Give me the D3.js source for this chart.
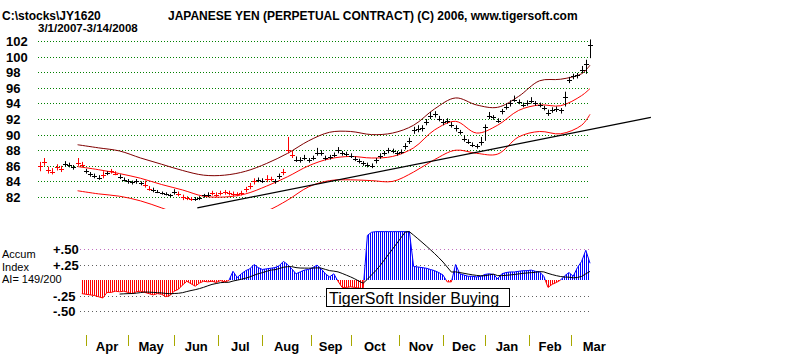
<!DOCTYPE html>
<html>
<head>
<meta charset="utf-8">
<script src="https://cdn.jsdelivr.net/npm/d3@7"></script>
<style>
body { margin: 0; background: #fff; }
svg { display: block; font-family: "Liberation Sans", Arial, sans-serif; }
.lbl { font-weight: bold; font-size: 13px; }
</style>
</head>
<body>
<div class="container"></div>
<script>
// one bar every 2 trading days, 3/1/2007 .. 3/14/2008
var closes = [86.0,86.5,85.4,85.2,85.8,85.6,86.2,86.1,85.8,86.3,
    86.1,85.3,84.9,84.7,84.5,84.8,85.1,85.3,85.0,84.6,
    84.2,84.0,83.9,84.0,83.8,83.5,83.0,82.9,82.7,82.5,
    82.4,82.2,82.7,82.4,82.0,81.9,81.8,81.7,81.9,82.2,
    82.3,82.5,82.3,82.5,82.6,82.5,82.4,82.4,82.5,83.0,
    83.4,84.0,84.2,84.1,84.3,84.3,84.0,84.7,85.2,88.0,
    87.4,86.8,86.7,87.0,86.7,87.0,87.6,87.6,87.0,87.1,
    87.4,88.0,87.6,87.5,87.3,86.9,86.6,86.3,86.1,86.0,
    86.7,87.3,87.6,88.0,87.9,87.6,87.8,88.5,89.2,90.6,
    90.7,90.8,91.6,92.4,92.6,92.0,91.6,91.7,91.2,90.8,
    90.3,89.5,89.1,88.7,88.5,89.0,91.0,92.4,92.2,91.8,
    93.0,93.6,94.0,94.5,94.2,93.8,94.0,94.3,94.0,93.8,
    93.4,92.8,93.1,93.3,93.1,94.8,97.0,97.5,97.6,98.3,
    99.0,101.5];
var highs = [86.5,87.0,85.9,85.7,86.2,86.0,86.6,86.4,86.1,87.0,
    86.5,85.6,85.2,85.0,84.8,85.3,85.3,85.6,85.3,84.9,
    84.5,84.3,84.1,84.3,84.0,84.1,83.4,83.2,82.9,82.7,
    82.6,82.4,83.0,82.7,82.3,82.1,82.0,82.0,82.1,82.4,
    82.6,82.8,82.6,82.8,82.9,82.8,82.7,82.6,82.8,83.3,
    83.8,84.4,84.5,84.4,84.8,84.6,84.3,85.0,85.6,89.7,
    87.9,87.2,87.1,87.4,87.0,87.3,88.3,88.0,87.3,87.4,
    87.7,88.4,87.9,87.8,87.6,87.2,86.9,86.6,86.4,86.3,
    87.0,87.6,87.9,88.3,88.2,87.9,88.1,88.9,89.6,91.0,
    91.2,91.2,92.0,92.9,93.0,92.4,92.0,92.1,91.6,91.2,
    90.6,89.9,89.4,89.0,88.8,89.7,91.3,92.9,92.5,92.1,
    93.3,94.0,94.4,95.0,94.5,94.1,94.4,94.8,94.3,94.1,
    93.7,93.2,93.5,93.6,93.4,95.5,97.4,97.8,97.9,98.8,
    99.6,102.2];
var lows = [85.3,86.0,85.0,84.9,85.4,85.2,85.9,85.8,85.5,86.0,
    85.8,85.0,84.6,84.4,84.2,84.4,84.8,85.0,84.8,84.3,
    84.0,83.7,83.6,83.7,83.5,83.2,82.8,82.6,82.5,82.3,
    82.2,82.0,82.3,82.1,81.6,81.6,81.5,81.5,81.6,81.9,
    82.0,82.2,82.0,82.2,82.3,82.2,82.1,82.1,82.2,82.6,
    83.0,83.6,83.9,83.8,83.9,84.0,83.7,84.3,84.8,87.6,
    87.0,86.5,86.4,86.7,86.4,86.7,87.3,87.3,86.7,86.8,
    87.1,87.6,87.3,87.2,87.0,86.6,86.3,86.0,85.8,85.7,
    86.3,86.9,87.3,87.6,87.6,87.3,87.5,88.1,88.8,90.1,
    90.3,90.4,91.2,92.0,92.2,91.7,91.2,91.4,90.9,90.4,
    90.0,89.1,88.8,88.4,88.2,88.6,89.2,92.0,91.9,91.5,
    92.6,93.2,93.6,94.2,93.9,93.5,93.7,94.0,93.7,93.5,
    93.1,92.4,92.8,92.9,92.7,93.6,96.6,97.1,97.2,97.9,
    97.8,99.8];
var barColours = 'rrrrrrkkkrrkkkkrkrrkkkkkkrrkkkkkkrrrrkkkkrrrrrrrrrrrkkrrkkrrr' +
    'kkkkkkkkkkkkkkkkkkkkkkkkkkkkkkkkkkkkkkkkkkkkkkkkkkkkkkkkkkkkkkkkkkkkkkk';

var bandDays = [18,28,38,48,58,68,78,88,98,108,118,128,138,148,158,168,178,188,198,208,218,228,238,248,258,262];
var upperBand = [88.7,88.3,87.9,87.0,86.2,85.4,84.8,84.8,85.3,86.3,87.6,89.2,90.3,90.4,90.0,90.2,91.2,93.3,94.7,93.8,93.5,94.9,96.9,97.1,97.8,98.9];
var midBand = [85.9,85.5,85.0,84.4,83.6,82.9,82.1,82.0,82.4,83.4,84.6,86.0,86.9,87.2,87.0,87.2,88.3,90.6,91.7,90.2,91.2,93.1,93.8,93.7,95.0,95.9];
var lowerBand = [82.8,82.4,82.1,81.5,80.6,79.6,79.0,79.0,79.5,80.2,81.6,83.3,84.1,84.2,84.1,84.0,85.2,86.8,88.0,87.6,87.5,89.7,90.4,90.1,91.2,92.6];
var trendLine = [[75, 80.6], [291, 92.2]];

// accumulation index, same 2-day slots
var accum = [null,null,null,null,null,null,null,null,null,null,
    -0.22,-0.23,-0.24,-0.25,-0.27,-0.29,-0.2,-0.2,-0.18,-0.19,
    -0.18,-0.2,-0.22,-0.19,-0.18,-0.2,-0.22,-0.24,-0.22,-0.23,
    -0.27,-0.25,-0.18,-0.15,-0.08,-0.02,-0.06,-0.1,-0.05,-0.02,
    -0.03,-0.02,-0.04,-0.01,-0.03,-0.01,0.14,0.04,0.1,0.15,
    0.18,0.25,0.2,0.17,0.18,0.19,0.2,0.23,0.3,0.25,
    0.18,0.1,0.13,0.16,0.17,0.2,0.24,0.18,0.1,0.05,
    0.1,-0.02,-0.12,-0.12,-0.11,-0.12,-0.13,-0.14,0.72,0.77,
    0.78,0.78,0.78,0.78,0.78,0.78,0.78,0.78,0.78,0.22,
    0.21,0.2,0.19,0.17,0.15,0.12,0.08,-0.03,-0.03,0.25,
    0.1,0.08,0.06,0.06,0.05,0.06,0.09,0.1,0.09,0.02,
    0.1,0.12,0.13,0.13,0.14,0.15,0.15,0.16,0.14,0.13,
    0.06,-0.12,-0.07,-0.04,0.0,0.07,0.12,0.06,0.2,0.3,
    0.48,0.27];

var priceTicks = [82,84,86,88,90,92,94,96,98,100,102];
var accumTicks = [0.5, 0.25, -0.25, -0.5];
var accumTickLabels = ['+.50', '+.25', '-.25', '-.50'];
var monthStarts = [22,42,64,85,106,129,148,171,192,212,233,253,275];
var monthNames = ['Apr','May','Jun','Jul','Aug','Sep','Oct','Nov','Dec','Jan','Feb','Mar'];

var W = 800, H = 354;
var xDay = d3.scaleLinear().domain([0, 262]).range([39.8, 590]);
var yPrice = d3.scaleLinear().domain([82, 102]).range([197, 41]);
var yAccum = d3.scaleLinear().domain([-0.5, 0.5]).range([311, 249]);
var px = v => Math.round(v) + 0.5;

var svg = d3.select('.container').append('svg')
    .attr('width', W)
    .attr('height', H);

var defs = svg.append('defs');
[['blueStripes', '#0000ff'], ['redStripes', '#ff0000']].forEach(([id, c]) => {
    defs.append('pattern')
        .attr('id', id)
        .attr('width', 2).attr('height', 4)
        .attr('patternUnits', 'userSpaceOnUse')
        .append('rect').attr('width', 1).attr('height', 4).attr('fill', c);
});
defs.append('clipPath').attr('id', 'priceClip')
    .append('rect').attr('x', 0).attr('y', 0).attr('width', W).attr('height', 209);
defs.append('clipPath').attr('id', 'posClip')
    .append('rect').attr('x', 0).attr('y', 0).attr('width', W).attr('height', yAccum(0));
defs.append('clipPath').attr('id', 'negClip')
    .append('rect').attr('x', 0).attr('y', yAccum(0)).attr('width', W).attr('height', H);

// titles
svg.append('text').attr('x', 2).attr('y', 20)
    .attr('font-size', 12).attr('font-weight', 'bold')
    .text('C:\\stocks\\JY1620');
svg.append('text').attr('x', 38).attr('y', 32)
    .attr('font-size', 11.5).attr('font-weight', 'bold')
    .text('3/1/2007-3/14/2008');
svg.append('text').attr('x', 168).attr('y', 20)
    .attr('font-size', 12).attr('font-weight', 'bold')
    .text('JAPANESE YEN (PERPETUAL CONTRACT) (C) 2006, www.tigersoft.com');

// price grid
svg.append('g').selectAll('line')
    .data(priceTicks)
    .enter().append('line')
    .attr('x1', 38).attr('x2', 588)
    .attr('y1', d => px(yPrice(d))).attr('y2', d => px(yPrice(d)))
    .attr('stroke', '#008000')
    .attr('stroke-dasharray', '1,2');

svg.append('g').selectAll('text')
    .data(priceTicks)
    .enter().append('text')
    .classed('lbl', true)
    .attr('x', 6)
    .attr('y', d => yPrice(d) + 5)
    .text(d => d);

// bands
var bandLine = vals => d3.line()
    .x((d, i) => xDay(bandDays[i]))
    .y(d => yPrice(d))
    .curve(d3.curveCatmullRom)(vals);

var bands = svg.append('g').attr('clip-path', 'url(#priceClip)').attr('fill', 'none');
bands.append('path').attr('d', bandLine(upperBand)).attr('stroke', '#800000');
bands.append('path').attr('d', bandLine(midBand)).attr('stroke', '#ff0000');
bands.append('path').attr('d', bandLine(lowerBand)).attr('stroke', '#ff0000');

svg.append('line')
    .attr('x1', xDay(trendLine[0][0])).attr('y1', yPrice(trendLine[0][1]))
    .attr('x2', xDay(trendLine[1][0])).attr('y2', yPrice(trendLine[1][1]))
    .attr('stroke', '#000')
    .attr('stroke-width', 1.3);

// price bars
var bars = closes.map((c, i) => ({day: i * 2, c: c, h: highs[i], l: lows[i], red: barColours[i] === 'r'}));

var barG = svg.append('g').selectAll('g')
    .data(bars)
    .enter().append('g')
    .attr('stroke', d => d.red ? '#ff0000' : '#000');

barG.append('line')
    .attr('x1', d => px(xDay(d.day))).attr('x2', d => px(xDay(d.day)))
    .attr('y1', d => yPrice(d.h)).attr('y2', d => yPrice(d.l));
barG.append('line')
    .attr('x1', d => Math.round(xDay(d.day)) - 2).attr('x2', d => Math.round(xDay(d.day)) + 3)
    .attr('y1', d => px(yPrice(d.c))).attr('y2', d => px(yPrice(d.c)));

// accum panel
svg.append('g').selectAll('line')
    .data(accumTicks)
    .enter().append('line')
    .attr('x1', 80).attr('x2', 590)
    .attr('y1', d => px(yAccum(d))).attr('y2', d => px(yAccum(d)))
    .attr('stroke', d => d === 0.5 ? '#c070c0' : '#606060')
    .attr('stroke-dasharray', '1,3');

svg.append('g').selectAll('text')
    .data(accumTicks)
    .enter().append('text')
    .classed('lbl', true)
    .attr('x', 53)
    .attr('y', d => yAccum(d) + 5)
    .text((d, i) => accumTickLabels[i]);

[['Accum', 258], ['Index', 270.5], ['AI= 149/200', 283]].forEach(([t, y]) => {
    svg.append('text').attr('x', 2).attr('y', y).attr('font-size', 11).text(t);
});

var accumData = accum.map((v, i) => ({day: i * 2, v: v})).filter(d => d.v !== null);

var area = d3.area()
    .x(d => xDay(d.day))
    .y0(yAccum(0))
    .y1(d => yAccum(d.v));
var aiLine = d3.line()
    .x(d => xDay(d.day))
    .y(d => yAccum(d.v));

[['posClip', 'blueStripes', '#0000ff'], ['negClip', 'redStripes', '#ff0000']].forEach(([clip, pat, c]) => {
    var g = svg.append('g').attr('clip-path', `url(#${ clip })`);
    g.append('path').attr('d', area(accumData)).attr('fill', `url(#${ pat })`);
    g.append('path').attr('d', aiLine(accumData)).attr('fill', 'none').attr('stroke', c);
});

var win = 10;
var avgData = accumData.slice(win - 1).map((d, i) => ({
    day: d.day,
    v: d3.mean(accumData.slice(i, i + win), e => e.v)
}));
svg.append('path')
    .attr('d', aiLine(avgData))
    .attr('fill', 'none')
    .attr('stroke', '#000');

svg.append('rect')
    .attr('x', 326.5).attr('y', 288.5)
    .attr('width', 183).attr('height', 18)
    .attr('fill', '#fff').attr('stroke', '#000');
svg.append('text')
    .attr('x', 329).attr('y', 303.5)
    .attr('font-size', 16)
    .text('TigerSoft Insider Buying');

// month ticks
svg.append('g').selectAll('line')
    .data(monthStarts.slice(0, -1))
    .enter().append('line')
    .attr('x1', d => px(xDay(d))).attr('x2', d => px(xDay(d)))
    .attr('y1', 335).attr('y2', 346)
    .attr('stroke', '#a8a800');

svg.append('g').selectAll('text')
    .data(monthNames)
    .enter().append('text')
    .classed('lbl', true)
    .attr('text-anchor', 'middle')
    .attr('x', (d, i) => xDay((monthStarts[i] + monthStarts[i + 1]) / 2))
    .attr('y', 351)
    .text(d => d);
</script>
</body>
</html>
